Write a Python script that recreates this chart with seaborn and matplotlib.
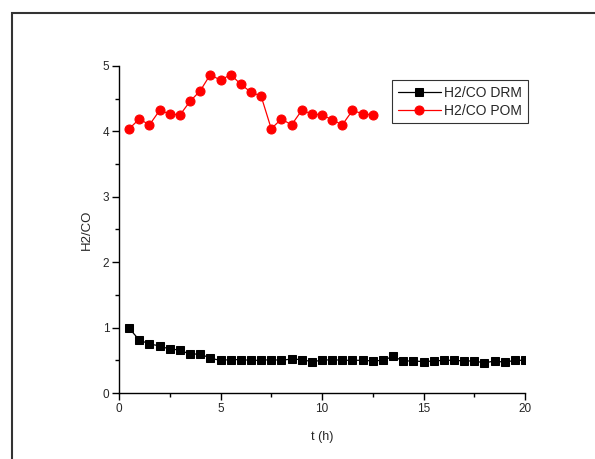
import matplotlib
matplotlib.use("Agg")
import matplotlib.pyplot as plt
import seaborn as sns
import numpy as np
import pandas as pd
from matplotlib.patches import Rectangle
from matplotlib.ticker import MultipleLocator

t_drm = [0.5 * i for i in range(1, 41)]
h2co_drm = [0.99, 0.81, 0.75, 0.72, 0.67, 0.66, 0.59, 0.60, 0.53, 0.50,
            0.51, 0.51, 0.50, 0.50, 0.51, 0.50, 0.52, 0.51, 0.48, 0.50,
            0.51, 0.50, 0.50, 0.50, 0.49, 0.50, 0.56, 0.49, 0.49, 0.48,
            0.49, 0.50, 0.50, 0.49, 0.49, 0.46, 0.49, 0.47, 0.50, 0.50]
t_pom = [0.5 * i for i in range(1, 26)]
h2co_pom = [4.04, 4.19, 4.10, 4.32, 4.27, 4.25, 4.46, 4.62, 4.87, 4.78,
            4.87, 4.72, 4.60, 4.54, 4.04, 4.19, 4.10, 4.32, 4.27, 4.25,
            4.18, 4.10, 4.32, 4.27, 4.25]
labels = ["H2/CO DRM", "H2/CO POM"]

sns.set_style("ticks")
plt.rcParams['font.family'] = ['Liberation Sans', 'DejaVu Sans']

fig = plt.figure(figsize=(5.95, 4.59), dpi=100)
ax = fig.add_axes([119/595, 1 - 393/459, (525-119)/595, (393-66)/459])

df_drm = pd.DataFrame({"t": t_drm, "v": h2co_drm})
df_pom = pd.DataFrame({"t": t_pom, "v": h2co_pom})
sns.lineplot(data=df_drm, x="t", y="v", ax=ax, color="black", marker="s",
             markersize=5.2, markeredgecolor="black", linewidth=0.9, label=labels[0])
sns.lineplot(data=df_pom, x="t", y="v", ax=ax, color="red", marker="o",
             markersize=6.5, markeredgecolor="red", linewidth=0.9, label=labels[1])

ax.set_xlim(0, 20)
ax.set_ylim(0, 5)
ax.xaxis.set_major_locator(MultipleLocator(5))
ax.xaxis.set_minor_locator(MultipleLocator(2.5))
ax.yaxis.set_major_locator(MultipleLocator(1))
ax.yaxis.set_minor_locator(MultipleLocator(0.5))
ax.tick_params(which="major", direction="out", length=5, width=1, labelsize=8.5, pad=2, color="black")
ax.tick_params(which="minor", direction="out", length=3, width=1, color="black")
for s in ["top", "right"]:
    ax.spines[s].set_visible(False)
for s in ["left", "bottom"]:
    ax.spines[s].set_color("black")
    ax.spines[s].set_linewidth(1)
ax.set_xlabel("t (h)", fontsize=9, labelpad=12)
ax.set_ylabel("H2/CO", fontsize=9.5, labelpad=7)

leg = ax.legend(loc="upper right", bbox_to_anchor=(1.007, 0.957), fontsize=10,
                frameon=True, fancybox=False, edgecolor="black",
                handlelength=3.1, borderpad=0.4, labelspacing=0.3, handletextpad=0.25,
                borderaxespad=0)
leg.get_frame().set_linewidth(0.8)

fig.patches.append(Rectangle((12/595, -0.1), 1.2, 1 - 13/459 + 0.1,
                             transform=fig.transFigure, fill=False,
                             edgecolor="#333333", linewidth=1.5, figure=fig))

fig.savefig("out.png", dpi=100)
